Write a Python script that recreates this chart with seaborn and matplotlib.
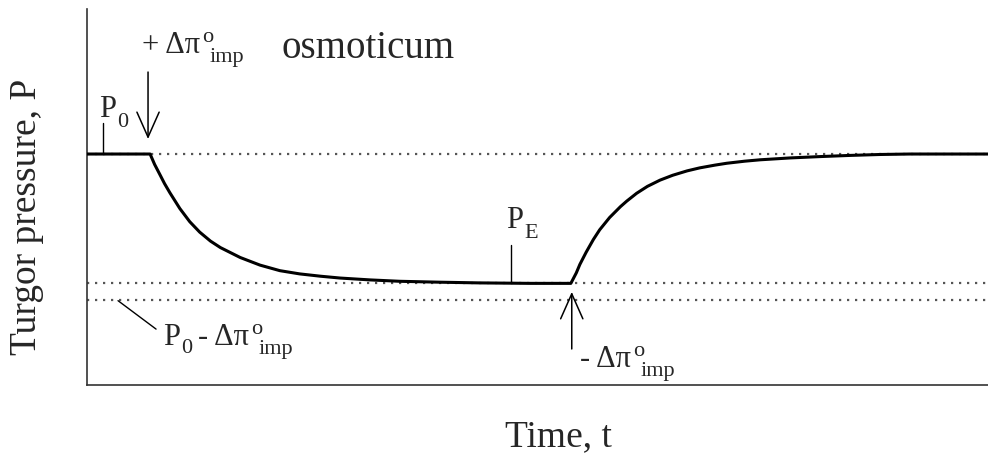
import matplotlib
matplotlib.use("Agg")
import matplotlib.pyplot as plt
import seaborn as sns
import pandas as pd

# Turgor pressure response to adding and then removing an impermeant osmoticum
time = [0.0, 7.0, 7.5, 8.1, 8.6, 9.2, 10.3, 11.4, 12.5, 13.7, 14.8, 17.0,
        19.2, 21.4, 23.6, 25.9, 28.1, 31.4, 34.7, 39.2, 43.6, 49.2, 53.7,
        54.3, 54.7, 55.4, 56.2, 56.9, 58.0, 59.2, 59.9, 61.0, 62.2, 63.6,
        65.0, 66.6, 68.0, 69.7, 71.0, 73.0, 74.7, 78.0, 81.4, 84.7, 88.0,
        91.3, 100.0]
pressure = [10.0, 10.0, 9.55, 9.10, 8.72, 8.32, 7.64, 7.07, 6.62, 6.23, 5.95,
            5.52, 5.19, 4.95, 4.81, 4.71, 4.63, 4.55, 4.49, 4.45, 4.42, 4.40,
            4.40, 4.85, 5.22, 5.75, 6.30, 6.72, 7.25, 7.72, 7.96, 8.30, 8.60,
            8.87, 9.08, 9.27, 9.40, 9.52, 9.60, 9.69, 9.75, 9.83, 9.89, 9.94,
            9.98, 10.0, 10.0]

p0_level = 10.0          # initial turgor P0
pe_level = 4.4           # new equilibrium PE
p0_minus_dpi = 3.7       # P0 - delta pi_imp
t_add = 6.77             # osmoticum added
t_remove = 53.8          # osmoticum removed

df = pd.DataFrame({"t": time, "P": pressure})

sns.set_style("white")
plt.rcParams["font.family"] = ["Liberation Serif", "DejaVu Serif"]

fig = plt.figure(figsize=(9.88, 4.6), dpi=100)
ax = fig.add_axes([0.0881, 0.1609, 0.9119, 0.8174])
renderer = fig.canvas.get_renderer()

dot = (0, (1.0, 2.6))
for lvl in (p0_level, pe_level, p0_minus_dpi):
    ax.axhline(lvl, color="#555555", lw=1.6, linestyle=dot,
               dash_capstyle="butt", zorder=1)

sns.lineplot(data=df, x="t", y="P", ax=ax, color="black", lw=2.2,
             sort=False, zorder=3, solid_joinstyle="round")

ax.set_xlim(0, 100)
ax.set_ylim(0, 16.28)
ax.set_xticks([])
ax.set_yticks([])
ax.set_xlabel("")
ax.set_ylabel("")
for side in ("top", "right"):
    ax.spines[side].set_visible(False)
for side in ("left", "bottom"):
    ax.spines[side].set_color("#333333")
    ax.spines[side].set_linewidth(1.2)

fig.text(0.565, 0.05, "Time, t", fontsize=27, ha="center", va="center")
fig.text(0.027, 0.528, "Turgor pressure, P", fontsize=27, rotation=90,
         ha="center", va="center")

MAIN = 22
SMALL = 16


def rich_label(x, y, pieces):
    """Write text pieces left to right from a data point.

    Each piece is (text, fontsize, dx, dy, advance), offsets in points.
    """
    cur = 0.0
    for text, size, dx, dy, advance in pieces:
        t = ax.annotate(text, (x, y), xytext=(cur + dx, dy),
                        textcoords="offset points", fontsize=size,
                        ha="left", va="baseline")
        if advance:
            w = t.get_window_extent(renderer).width * 72.0 / fig.dpi
            cur += dx + w


def delta_pi(prefix):
    return [(prefix + "Δπ", MAIN, 0, 0, True),
            ("o", SMALL, 1.5, 8, False),
            ("imp", SMALL, 7, -6.5, True)]


# P0 marker
ax.plot([1.78, 1.78], [p0_level, 11.34], color="black", lw=1.0)
rich_label(1.33, 11.65, [("P", MAIN, 0, 0, True), ("0", SMALL, 1, -7, True)])

# addition of osmoticum
arrow = dict(arrowstyle="->, head_length=0.9, head_width=0.4",
             color="black", lw=1.1, mutation_scale=20, shrinkA=0, shrinkB=0)
ax.annotate("", xy=(t_add, 10.65), xytext=(t_add, 13.55), arrowprops=arrow)
rich_label(6.1, 14.42, delta_pi("+ "))
ax.text(21.6, 14.2, "osmoticum", fontsize=28, ha="left", va="baseline")

# equilibrium PE
ax.plot([47.1, 47.1], [pe_level, 6.06], color="black", lw=1.0)
rich_label(46.5, 6.84, [("P", MAIN, 0, 0, True), ("E", SMALL, 1, -7, True)])

# P0 - delta pi label with leader
ax.plot([3.44, 7.66], [p0_minus_dpi - 0.05, 2.42], color="black", lw=1.0)
rich_label(8.44, 1.77, [("P", MAIN, 0, 0, True), ("0", SMALL, 1, -6, True)]
           + [(t, s, dx + (4 if i == 0 else 0), dy, a)
              for i, (t, s, dx, dy, a) in enumerate(delta_pi("- "))])

# removal of osmoticum
ax.annotate("", xy=(t_remove, 4.03), xytext=(t_remove, 1.56), arrowprops=arrow)
rich_label(54.7, 0.82, delta_pi("- "))

fig.savefig("out.png", dpi=100)
